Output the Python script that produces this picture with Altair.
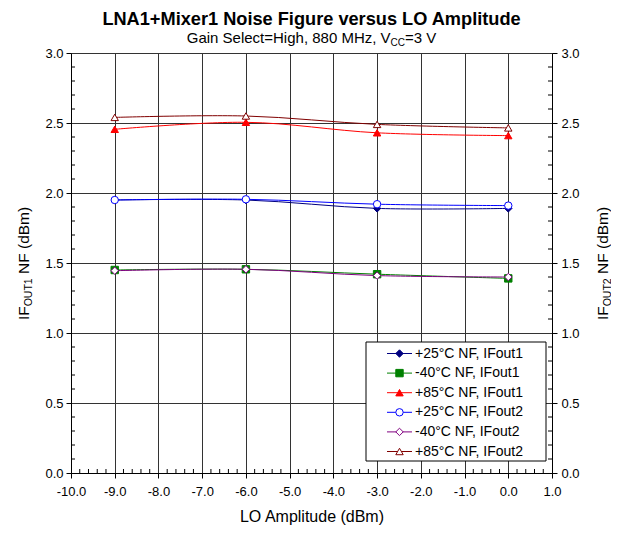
import altair as alt
import pandas as pd

# ---------------- data ----------------
lo_amplitude = [-9.0, -6.0, -3.0, 0.0]
series_names = ["+25°C NF, IFout1", "-40°C NF, IFout1", "+85°C NF, IFout1",
                "+25°C NF, IFout2", "-40°C NF, IFout2", "+85°C NF, IFout2"]
nf_p25_if1 = [1.95, 1.95, 1.89, 1.89]
nf_m40_if1 = [1.45, 1.455, 1.42, 1.39]
nf_p85_if1 = [2.455, 2.505, 2.43, 2.41]
nf_p25_if2 = [1.95, 1.955, 1.92, 1.91]
nf_m40_if2 = [1.445, 1.455, 1.41, 1.40]
nf_p85_if2 = [2.54, 2.55, 2.49, 2.465]

line_colors = ["#000080", "#008000", "#FF0000", "#0000FF", "#800080", "#800000"]
fill_colors = ["#000080", "#008000", "#FF0000", "#FFFFFF", "#FFFFFF", "#FFFFFF"]
shapes = ["diamond", "square", "triangle-up", "circle", "diamond", "triangle-up"]

x_ticks = [-10, -9, -8, -7, -6, -5, -4, -3, -2, -1, 0, 1]
y_ticks = [0.0, 0.5, 1.0, 1.5, 2.0, 2.5, 3.0]
x_minor = [round(-10 + 0.2 * i, 1) for i in range(56) if i % 5 != 0]
y_minor = [round(0.1 * i, 1) for i in range(31) if i % 5 != 0]

all_values = [nf_p25_if1, nf_m40_if1, nf_p85_if1, nf_p25_if2, nf_m40_if2, nf_p85_if2]
rows = []
for k, (name, vals) in enumerate(zip(series_names, all_values)):
    for xv, yv in zip(lo_amplitude, vals):
        rows.append({"series": name, "k": k, "lo": xv, "nf": yv})
df = pd.DataFrame(rows)

W, H = 481, 420
FONT = "Liberation Sans"
GRID = "#333333"

x_scale = alt.Scale(domain=[-10, 1], nice=False, zero=False)
y_scale = alt.Scale(domain=[0, 3], nice=False, zero=False)
color_scale = alt.Scale(domain=series_names, range=line_colors)
fill_scale = alt.Scale(domain=series_names, range=fill_colors)
shape_scale = alt.Scale(domain=series_names, range=shapes)

x_axis = alt.Axis(orient="bottom", values=x_ticks, grid=True, gridColor=GRID, gridOpacity=1,
                  labelExpr="(datum.value < 0 ? '-' : '') + format(abs(datum.value), '.1f')",
                  title="LO Amplitude (dBm)", titleFont=FONT, titleFontSize=16,
                  titleFontWeight="normal", titleColor="black", titlePadding=10,
                  labelFont=FONT, labelFontSize=13, labelColor="black", labelPadding=7,
                  labelOverlap=False, labelFlush=False,
                  tickSize=5, tickColor="black", domainColor="black")
y_axis_left = alt.Axis(orient="left", values=y_ticks, format=".1f", grid=True,
                       gridColor=GRID, gridOpacity=1, title=None,
                       labelFont=FONT, labelFontSize=13, labelColor="black", labelPadding=3,
                       labelOverlap=False, labelFlush=False,
                       tickSize=5, tickColor="black", domainColor="black")
y_axis_right = alt.Axis(orient="right", values=y_ticks, format=".1f", grid=False, title=None,
                        labelFont=FONT, labelFontSize=13, labelColor="black", labelPadding=4,
                        labelOverlap=False, labelFlush=False,
                        tickSize=5, tickColor="black", domainColor="black")

base = alt.Chart(df)
lines = base.mark_line(interpolate="catmull-rom", strokeWidth=1).encode(
    x=alt.X("lo:Q", scale=x_scale, axis=x_axis),
    y=alt.Y("nf:Q", scale=y_scale, axis=y_axis_left),
    color=alt.Color("series:N", scale=color_scale, legend=None),
)
points = base.mark_point(size=55, opacity=1, strokeWidth=1).encode(
    x=alt.X("lo:Q", scale=x_scale, axis=None),
    y=alt.Y("nf:Q", scale=y_scale, axis=None),
    stroke=alt.Stroke("series:N", scale=color_scale, legend=None),
    fill=alt.Fill("series:N", scale=fill_scale, legend=None),
    shape=alt.Shape("series:N", scale=shape_scale, legend=None),
    order=alt.Order("k:Q"),
)
xminor = alt.Chart(pd.DataFrame({"v": x_minor})).mark_rule(color="black", strokeWidth=1).encode(
    x=alt.X("v:Q", scale=x_scale, axis=None),
    y=alt.value(H), y2=alt.value(H - 4),
)
yminor_left = alt.Chart(pd.DataFrame({"v": y_minor})).mark_rule(color="black", strokeWidth=1).encode(
    y=alt.Y("v:Q", scale=y_scale, axis=None),
    x=alt.value(0), x2=alt.value(4),
)
yminor_right = alt.Chart(pd.DataFrame({"v": y_minor})).mark_rule(color="black", strokeWidth=1).encode(
    y=alt.Y("v:Q", scale=y_scale, axis=y_axis_right),
    x=alt.value(W), x2=alt.value(W - 4),
)
main = alt.layer(lines, points, xminor, yminor_left, yminor_right).resolve_axis(
    x="independent", y="independent")

# ---------------- legend ----------------
leg_df = pd.DataFrame({"series": series_names})
leg_y = alt.Y("series:N", scale=alt.Scale(type="point", domain=series_names,
                                          range=[300.5, 398.5], padding=0),
              axis=None)
leg_box = alt.Chart(pd.DataFrame({"a": [0]})).mark_rect(fill="white", stroke="black", strokeWidth=1).encode(
    x=alt.value(295), x2=alt.value(475), y=alt.value(289), y2=alt.value(408))
leg_rules = alt.Chart(leg_df).mark_rule(strokeWidth=1).encode(
    x=alt.value(316), x2=alt.value(341), y=leg_y,
    color=alt.Color("series:N", scale=color_scale, legend=None))
leg_points = alt.Chart(leg_df).mark_point(size=55, opacity=1, strokeWidth=1).encode(
    x=alt.value(328.5), y=leg_y,
    stroke=alt.Stroke("series:N", scale=color_scale, legend=None),
    fill=alt.Fill("series:N", scale=fill_scale, legend=None),
    shape=alt.Shape("series:N", scale=shape_scale, legend=None))
leg_text = alt.Chart(leg_df).mark_text(align="left", baseline="middle", font=FONT,
                                       fontSize=14, color="black").encode(
    x=alt.value(344), y=leg_y, text="series:N")


# ---------------- titles (with subscripts) ----------------
def piece(text, x, y, size, align="left", weight="normal", angle=0):
    return alt.Chart(pd.DataFrame({"t": [text]})).mark_text(
        align=align, baseline="alphabetic", font=FONT, fontSize=size,
        fontWeight=weight, angle=angle, color="black").encode(
        x=alt.value(x), y=alt.value(y), text="t:N")


title_main = piece("LNA1+Mixer1 Noise Figure versus LO Amplitude", W / 2, -28.5, 18.2,
                   align="center", weight="bold")
sub_a = 319.6
sub1 = piece("Gain Select=High, 880 MHz, V", sub_a, -10, 15, align="right")
sub2 = piece("CC", sub_a, -7, 10)
sub3 = piece("=3 V", sub_a + 14.4, -10, 15)

left_pieces = [
    piece("IF", -42, 267, 15.5, angle=270),
    piece("OUT1", -39.5, 253.3, 10.5, angle=270),
    piece("NF (dBm)", -42, 221, 15.5, angle=270),
]
right_pieces = [
    piece("IF", W + 56, 267, 15.5, angle=270),
    piece("OUT2", W + 58.5, 253.3, 10.5, angle=270),
    piece("NF (dBm)", W + 56, 221, 15.5, angle=270),
]

chart = alt.layer(
    main, leg_box, leg_rules, leg_points, leg_text,
    title_main, sub1, sub2, sub3, *left_pieces, *right_pieces,
).resolve_scale(y="independent").properties(
    width=W, height=H,
    padding={"left": 63, "top": 45, "right": 59, "bottom": 53},
    autosize=alt.AutoSizeParams(type="none"),
    background="white",
).configure_view(strokeWidth=0)

chart.save("out.html", embed_options={"renderer": "svg", "actions": False})
